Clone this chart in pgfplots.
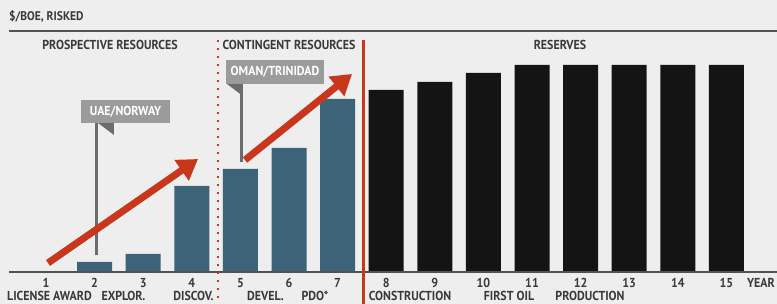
\documentclass[border=0pt]{standalone}
\usepackage{fontspec}
\setmainfont{PT Sans}[FakeStretch=0.92]
\usepackage{pgfplots}
\pgfplotsset{compat=1.18}
\usetikzlibrary{arrows.meta}
\definecolor{bg}{HTML}{EEEEEE}
\definecolor{rulegray}{HTML}{4F5356}
\definecolor{txt}{HTML}{3A3A3A}
\definecolor{bluebar}{HTML}{3D6378}
\definecolor{blackbar}{HTML}{141414}
\definecolor{redc}{HTML}{C8361C}
\definecolor{flaggray}{HTML}{9B9B9B}
\definecolor{polegray}{HTML}{6C6C6E}
\newcommand{\lf}{\fontsize{13}{15}\selectfont\bfseries}
\begin{document}
\begin{tikzpicture}[x=1pt,y=1pt]
\fill[bg] (0,0) rectangle (777,304);
\useasboundingbox (0,0) rectangle (777,304);
\draw[line width=2.6pt, rulegray] (9,273) -- (777,273);
\node[anchor=base west, inner sep=0, text=txt, font=\fontsize{12.5}{14}\selectfont\bfseries] at (9,283) {\$/BOE, RISKED};
\begin{axis}[
  at={(9pt,32pt)}, anchor=south west,
  scale only axis, width=768pt, height=241pt,
  xmin=0.2387, xmax=16.0412, ymin=0, ymax=241,
  axis line style={draw=none},
  major tick length=0pt,
  ytick=\empty,
  xtick={1,...,15},
  /pgf/number format/assume math mode=true,
  xticklabel style={font=\lf, text=txt, anchor=base, yshift=-16pt},
  clip=false,
  ybar, bar width=35pt,
]
\addplot[fill=bluebar, draw=none, bar shift=0pt] coordinates {(2,10) (3,18) (4,86) (5,103) (6,124) (7,173)};
\addplot[fill=blackbar, draw=none, bar shift=0pt] coordinates {(8,182) (9,190) (10,199) (11,207) (12,207) (13,207) (14,207) (15,207)};
% baseline
\draw[line width=2.4pt, rulegray] (axis cs:0.2387,0) -- (axis cs:16.0412,0);
% separators
\draw[redc, line width=2.2pt, dash pattern=on 2.2pt off 5.8pt] (axis cs:4.539,232) -- (axis cs:4.539,-32);
\draw[redc, line width=3pt] (axis cs:7.533,232) -- (axis cs:7.533,-32);
% flag UAE/NORWAY
\fill[flaggray] (axis cs:1.720,172) rectangle (axis cs:3.551,149);
\fill[polegray] (axis cs:2.070,149) -- (axis cs:2.399,149) -- (axis cs:2.399,137) -- cycle;
\draw[polegray, line width=3pt] (axis cs:2.039,149) -- (axis cs:2.039,17);
\node[text=white, font=\lf] at (axis cs:2.636,160.5) {UAE/NORWAY};
% flag OMAN/TRINIDAD
\fill[flaggray] (axis cs:4.704,212) rectangle (axis cs:6.720,188);
\fill[polegray] (axis cs:4.724,188) -- (axis cs:5.053,188) -- (axis cs:5.053,176) -- cycle;
\draw[polegray, line width=3pt] (axis cs:5.023,188) -- (axis cs:5.023,110);
\node[text=white, font=\lf] at (axis cs:5.712,200) {OMAN/TRINIDAD};
% arrows
\draw[redc, line width=7pt, -{Triangle[length=20pt,width=24pt]}] (axis cs:1.041,9) -- (axis cs:4.128,113);
\draw[redc, line width=7pt, -{Triangle[length=20pt,width=24pt]}] (axis cs:5.095,112) -- (axis cs:7.296,198);
\end{axis}
\begin{scope}[every node/.style={text=txt, font=\lf, inner sep=0}]
\node at (110,259) {PROSPECTIVE RESOURCES};
\node at (289,259) {CONTINGENT RESOURCES};
\node at (560,259) {RESERVES};
\node[anchor=base east] at (775,16) {YEAR};
\node[anchor=base] at (49.5,3.5) {LICENSE AWARD};
\node[anchor=base] at (123.5,3.5) {EXPLOR.};
\node[anchor=base] at (193.5,3.5) {DISCOV.};
\node[anchor=base] at (265.5,3.5) {DEVEL.};
\node[anchor=base] at (315,3.5) {PDO*};
\node[anchor=base] at (410,3.5) {CONSTRUCTION};
\node[anchor=base] at (509,3.5) {FIRST OIL};
\node[anchor=base] at (590,3.5) {PRODUCTION};
\end{scope}
\end{tikzpicture}
\end{document}
